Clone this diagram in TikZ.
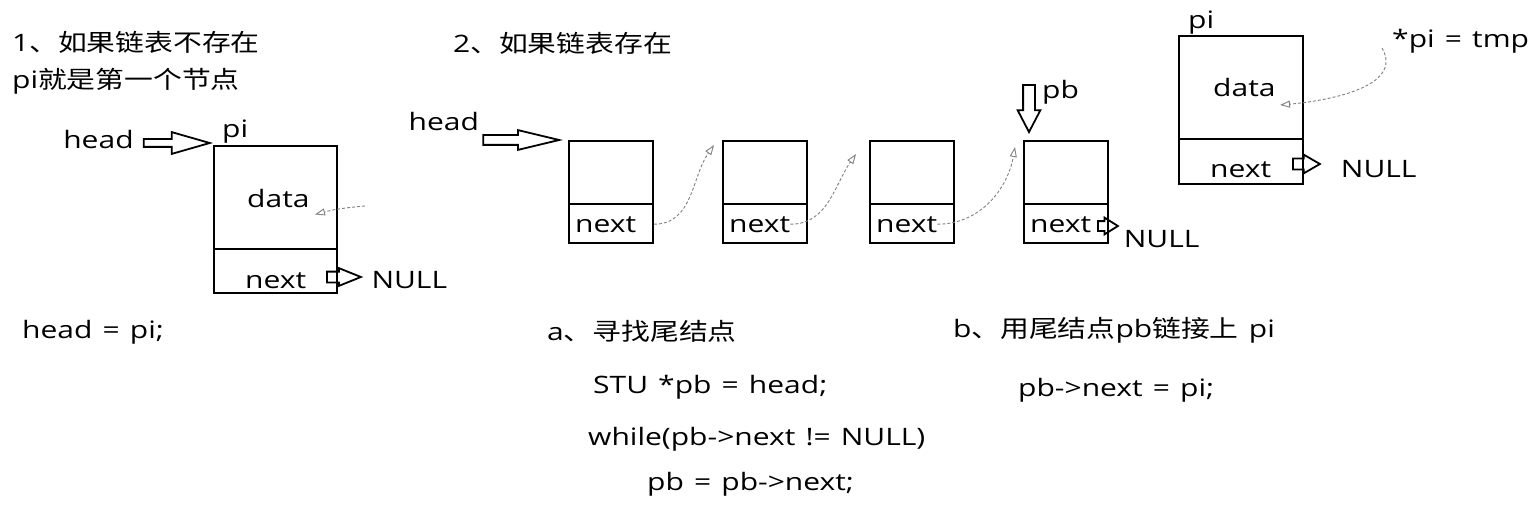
\documentclass[tikz,border=0pt]{standalone}
\usepackage{fontspec}
\setmainfont{Open Sans}[FakeStretch=1.25, WordSpace=1.3]
\newfontfamily\cjk{Noto Sans CJK SC}[FakeStretch=1.2]
\usetikzlibrary{positioning,shapes.arrows,arrows.meta}

\tikzset{
  cell/.style={draw, line width=2pt, inner sep=0pt},
  lbl/.style={inner sep=0pt, font=\fontsize{24}{28}\selectfont},
  harrow/.style={single arrow, draw, line width=1.8pt},
  link/.style={draw=gray, line width=0.9pt, dash pattern=on 3pt off 2pt,
    -{Triangle[open, length=10pt, width=7pt]}},
  divline/.style={line width=2.2pt},
}

\begin{document}
\begin{tikzpicture}[x=1pt,y=1pt]
    \useasboundingbox (0,0) rectangle (1534,-516);

    %Ueberschriften
    \node[lbl, anchor=base west] (title1) at (12,-52) {1{\cjk 、如果链表不存在}};
    \node[lbl, anchor=base west] (title1b) at (12,-89) {pi{\cjk 就是第一个节点}};
    \node[lbl, anchor=base west] (title2) at (453,-53) {2{\cjk 、如果链表存在}};

    %Fall 1: leere Liste
    \node[cell, minimum width=123pt, minimum height=147pt, anchor=north west] (pi1) at (213,-145) {};
    \draw[divline] ([yshift=45pt]pi1.south west) -- ([yshift=45pt]pi1.south east);
    \node[lbl, anchor=base west] (pi1lbl) at ([xshift=9pt,yshift=7pt]pi1.north west) {pi};
    \node[lbl, anchor=base west] (pi1data) at ([xshift=34pt,yshift=-62pt]pi1.north west) {data};
    \node[lbl, anchor=base west] (pi1next) at ([xshift=32pt,yshift=6pt]pi1.south west) {next};
    \node[harrow, inner sep=3pt, minimum height=66pt, single arrow head extend=7pt,
      single arrow tip angle=32, anchor=tip] (ha1) at ([yshift=2pt]pi1.north west) {};
    \node[lbl, anchor=base east] (head1) at ([xshift=-9pt,yshift=-6pt]ha1.tail) {head};
    \node[harrow, inner sep=4.5pt, minimum height=34pt, single arrow head extend=3.5pt,
      single arrow tip angle=44, anchor=tail] (na1) at ([xshift=-12pt,yshift=17pt]pi1.south east) {};
    \node[lbl, anchor=base west] (null1) at ([xshift=8pt,yshift=-11pt]na1.tip) {NULL};
    \coordinate (tmp1) at (365,-206);
    \coordinate (in1) at ([xshift=-23pt,yshift=5pt]pi1.east);
    \draw[link] (tmp1) to[out=185,in=15] (in1);
    \node[lbl, anchor=base west] (code1) at (22,-338) {head = pi;};

    %Fall 2: Liste vorhanden
    \node[cell, minimum width=84pt, minimum height=102pt, anchor=north west] (n1) at (568,-140) {};
    \node[cell, minimum width=84pt, minimum height=102pt, right=68pt of n1] (n2) {};
    \node[cell, minimum width=84pt, minimum height=102pt, right=61pt of n2] (n3) {};
    \node[cell, minimum width=84pt, minimum height=102pt, right=68pt of n3] (n4) {};
    \foreach \n in {n1,n2,n3,n4} {
      \draw[divline] ([yshift=40pt]\n.south west) -- ([yshift=40pt]\n.south east);
      \node[lbl, anchor=base west] (\n-next) at ([xshift=7pt,yshift=12pt]\n.south west) {next};
    }
    \node[harrow, inner sep=4pt, minimum height=76pt, single arrow head extend=5pt,
      single arrow tip angle=27, anchor=tip] (ha2) at ([xshift=-5pt]n1.north west) {};
    \node[lbl, anchor=base east] (head2) at ([xshift=-3pt,yshift=9pt]ha2.tail) {head};
    \node[harrow, shape border rotate=270, inner sep=5pt, minimum height=47pt,
      single arrow head extend=5.5pt, single arrow tip angle=55, anchor=tip] (pbarr)
      at ([xshift=6pt,yshift=6pt]n4.north west) {};
    \node[lbl, anchor=base west] (pblbl) at ([xshift=13pt,yshift=-14pt]pbarr.tail) {pb};
    \node[harrow, inner sep=4pt, minimum height=20pt, single arrow head extend=3.5pt,
      single arrow tip angle=64, anchor=tail] (na2) at ([xshift=-12pt,yshift=18pt]n4.south east) {};
    \node[lbl, anchor=base west] (null2) at ([xshift=4pt,yshift=-21pt]na2.tip) {NULL};

    %Verkettung
    \draw[link] (n1.east |- n1-next) to[out=0,in=235] ([xshift=-8pt,yshift=-5pt]n2.north west);
    \draw[link] (n2-next.east) to[out=0,in=235] ([xshift=-13pt,yshift=-14pt]n3.north west);
    \draw[link] (n3-next.east) to[out=0,in=260] ([xshift=-8pt,yshift=-7pt]n4.north west);

    %Code
    \node[lbl, anchor=base west] (stepa) at (547,-340) {a{\cjk 、寻找尾结点}};
    \node[lbl, anchor=base west] (code2) at (593,-393) {STU *pb = head;};
    \node[lbl, anchor=base west] (code3) at (588,-445) {while(pb->next != NULL)};
    \node[lbl, anchor=base west] (code4) at (647,-490) {pb = pb->next;};
    \node[lbl, anchor=base west] (stepb) at (953,-337) {b{\cjk 、用尾结点}pb{\cjk 链接上} pi};
    \node[lbl, anchor=base west] (code5) at (1018,-396) {pb->next = pi;};

    %neuer Knoten
    \node[cell, minimum width=124pt, minimum height=148pt, anchor=north west] (pi2) at (1178,-35) {};
    \draw[divline] ([yshift=46pt]pi2.south west) -- ([yshift=46pt]pi2.south east);
    \node[lbl, anchor=base west] (pi2lbl) at ([xshift=10pt,yshift=6pt]pi2.north west) {pi};
    \node[lbl, anchor=base west] (pi2data) at ([xshift=35pt,yshift=-62pt]pi2.north west) {data};
    \node[lbl, anchor=base west] (pi2next) at ([xshift=32pt,yshift=8pt]pi2.south west) {next};
    \node[harrow, inner sep=4.5pt, minimum height=27pt, single arrow head extend=4pt,
      single arrow tip angle=60, anchor=tail] (na3) at ([xshift=-12pt,yshift=21pt]pi2.south east) {};
    \node[lbl, anchor=base west] (null3) at ([xshift=19pt,yshift=-13pt]na3.tip) {NULL};
    \node[lbl, anchor=base west] (tmplbl) at (1392,-48) {*pi = tmp};
    \coordinate (tmp2) at (1382,-48);
    \coordinate (in2) at ([xshift=-24pt,yshift=5pt]pi2.east);
    \draw[link] (tmp2) to[out=-60,in=5] (in2);
\end{tikzpicture}
\end{document}
